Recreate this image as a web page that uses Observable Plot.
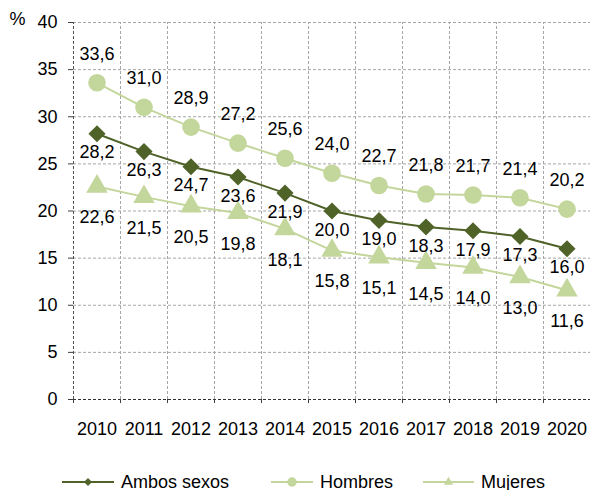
<!DOCTYPE html>
<html>
<head>
<meta charset="utf-8">
<script src="https://cdn.jsdelivr.net/npm/d3@7"></script>
<script src="https://cdn.jsdelivr.net/npm/@observablehq/plot@0.6"></script>
<style>
  html, body { margin: 0; padding: 0; background: #fff; }
  #wrap { position: relative; width: 590px; height: 490px; font-family: "Liberation Sans", Arial, sans-serif; }
  #legend { position: absolute; left: 0; top: 470px; width: 590px; height: 24px; }
  .item { position: absolute; top: 0; height: 24px; display: flex; align-items: center; font-size: 18px; color: #000; }
  .item svg { margin-right: 7px; }
</style>
</head>
<body>
<div id="wrap"><div id="chart"></div><div id="legend"></div></div>
<script>
const years = [2010, 2011, 2012, 2013, 2014, 2015, 2016, 2017, 2018, 2019, 2020];
const ambos = [28.2, 26.3, 24.7, 23.6, 21.9, 20.0, 19.0, 18.3, 17.9, 17.3, 16.0];
const hombres = [33.6, 31.0, 28.9, 27.2, 25.6, 24.0, 22.7, 21.8, 21.7, 21.4, 20.2];
const mujeres = [22.6, 21.5, 20.5, 19.8, 18.1, 15.8, 15.1, 14.5, 14.0, 13.0, 11.6];
const yTicks = [0, 5, 10, 15, 20, 25, 30, 35, 40];
const seriesNames = ["Ambos sexos", "Hombres", "Mujeres"];

const dark = "#4f6228";
const light = "#c3d69b";
const font = "Liberation Sans, Arial, sans-serif";
const fmt = v => d3.format(".1f")(v).replace(".", ",");

const rows = (vals, name) => years.map((y, i) => ({year: y, v: vals[i], serie: name}));
const dA = rows(ambos, seriesNames[0]);
const dH = rows(hombres, seriesNames[1]);
const dM = rows(mujeres, seriesNames[2]);

const bounds = d3.range(years.length + 1).map(i => years[0] - 0.5 + i);

const chart = Plot.plot({
  width: 590,
  height: 470,
  marginLeft: 73,
  marginRight: 0,
  marginTop: 22,
  marginBottom: 71,
  style: {fontFamily: font, fontSize: "18px", color: "#000", background: "#fff"},
  x: {domain: [bounds[0], bounds[bounds.length - 1]], axis: null},
  y: {domain: [0, 40], axis: null},
  marks: [
    Plot.ruleY(yTicks.filter(t => t > 0), {stroke: "#a6a6a6", strokeDasharray: "3,2", strokeWidth: 1}),
    Plot.ruleX(bounds.slice(1), {y1: 0, y2: 40, stroke: "#a6a6a6", strokeDasharray: "3,2", strokeWidth: 1}),
    Plot.ruleX([bounds[0]], {y1: 0, y2: 40, stroke: "#505050", strokeDasharray: "3,2", strokeWidth: 1}),
    Plot.ruleY([0], {stroke: "#303030", strokeDasharray: "3,2", strokeWidth: 1}),
    Plot.axisY({ticks: yTicks, tickSize: 5, tickPadding: 11, fontSize: 18, stroke: "#404040", tickFormat: d => d, label: null}),
    Plot.axisX({ticks: bounds, tickSize: 4, tickFormat: () => "", stroke: "#404040", label: null}),
    Plot.axisX({ticks: years, tickSize: 0, tickPadding: 23, fontSize: 18, tickFormat: d => String(d), label: null}),
    Plot.text(["%"], {frameAnchor: "top-left", dx: -56, dy: -3, textAnchor: "middle", lineAnchor: "middle", fontSize: 18, fill: "#000"}),
    Plot.line(dH, {x: "year", y: "v", stroke: light, strokeWidth: 2}),
    Plot.line(dM, {x: "year", y: "v", stroke: light, strokeWidth: 2}),
    Plot.line(dA, {x: "year", y: "v", stroke: dark, strokeWidth: 2}),
    Plot.dot(dH, {x: "year", y: "v", r: 8.8, fill: light, stroke: "none", symbol: "circle"}),
    Plot.dot(dM, {x: "year", y: "v", r: 8, fill: light, stroke: "none", symbol: "triangle"}),
    Plot.dot(dA, {x: "year", y: "v", r: 7.7, fill: dark, stroke: "none", symbol: "diamond2"}),
    Plot.text(dH, {x: "year", y: "v", text: d => fmt(d.v), dy: -29, fontSize: 18, fill: "#000", lineAnchor: "middle"}),
    Plot.text(dA, {x: "year", y: "v", text: d => fmt(d.v), dy: 19, fontSize: 18, fill: "#000", lineAnchor: "middle"}),
    Plot.text(dM, {x: "year", y: "v", text: d => fmt(d.v), dy: 31, fontSize: 18, fill: "#000", lineAnchor: "middle"})
  ]
});
document.getElementById("chart").appendChild(chart);

// Legend
const legendItems = [
  {name: seriesNames[0], color: dark, symbol: d3.symbolDiamond2, size: 40, left: 62, w: 52},
  {name: seriesNames[1], color: light, symbol: d3.symbolCircle, size: 70, left: 271, w: 42},
  {name: seriesNames[2], color: light, symbol: d3.symbolTriangle2, size: 60, left: 423, w: 51}
];
const legend = d3.select("#legend");
for (const it of legendItems) {
  const div = legend.append("div").attr("class", "item").style("left", it.left + "px");
  const s = div.append("svg").attr("width", it.w).attr("height", 20);
  s.append("line").attr("x1", 0).attr("x2", it.w).attr("y1", 10).attr("y2", 10)
    .attr("stroke", it.color).attr("stroke-width", 2);
  s.append("path").attr("transform", `translate(${it.w / 2},10)`)
    .attr("d", d3.symbol(it.symbol, it.size)()).attr("fill", it.color);
  div.append("span").text(it.name);
}
</script>
</body>
</html>
